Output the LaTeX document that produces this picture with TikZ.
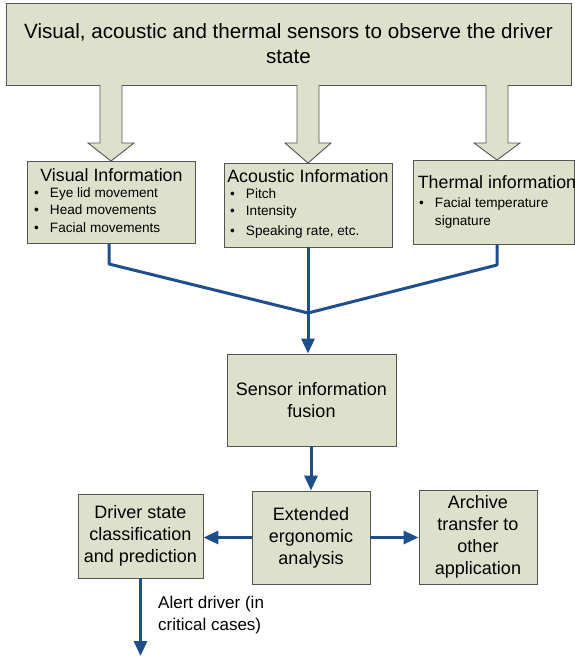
\documentclass[tikz,border=0pt]{standalone}
\usepackage{fontspec}
\setmainfont{Liberation Sans}
\usetikzlibrary{arrows.meta}
\definecolor{boxfill}{HTML}{DDE0CA}
\definecolor{boxline}{HTML}{555555}
\definecolor{flow}{HTML}{1F4E8C}
\newcommand\itemlist[1]{%
  \fontsize{13.6}{17.5}\selectfont
  \begin{tabular}{@{}l@{\hspace{11pt}}l@{}}#1\end{tabular}}
\begin{document}
\begin{tikzpicture}[x=1pt,y=-1pt,
  panel/.style={draw=boxline, fill=boxfill, line width=0.9pt, inner sep=0pt},
  bigtext/.style={font=\fontsize{18}{22}\selectfont, align=center},
  head/.style={font=\fontsize{17.8}{20}\selectfont, anchor=base, inner sep=0pt},
  listtext/.style={anchor=north west, inner sep=0pt, align=left},
  flowline/.style={draw=flow, line width=3pt},
  flowarrow/.style={flowline, -{Triangle[length=15pt,width=13pt]}},
  blockarrow/.style={draw=boxline, fill=boxfill, line width=0.9pt, line join=miter}]
\useasboundingbox (0,0) rectangle (575,657);

% sensor overview box
\node[panel, minimum width=565pt, minimum height=82pt,
  font=\fontsize{20.6}{25}\selectfont, align=center] (top) at (288.5,44)
  {Visual, acoustic and thermal sensors to observe the driver\\state};

% information boxes
\node[panel, minimum width=168pt, minimum height=82pt] (vis) at (111,202) {};
\node[panel, minimum width=168pt, minimum height=84pt] (aco) at (308,205) {};
\node[panel, minimum width=161pt, minimum height=84pt] (the) at (493.5,202) {};

\node[head] (vish) at (111.5,181) {Visual Information};
\node[listtext] (visl) at (34,185) {\itemlist{%
  \textbullet & Eye lid movement\\
  \textbullet & Head movements\\
  \textbullet & Facial movements}};

\node[head] (acoh) at (308,182) {Acoustic Information};
\node[listtext] (acol) at (230,186) {\itemlist{%
  \textbullet & Pitch\\
  \textbullet & Intensity\\[2pt]
  \textbullet & Speaking rate, etc.}};

\node[head] (theh) at (497,188) {Thermal information};
\node[listtext] (thel) at (419,194) {\fontsize{13.6}{18.5}\selectfont
  \begin{tabular}{@{}l@{\hspace{11pt}}l@{}}
  \textbullet & Facial temperature\\
   & signature\end{tabular}};

% block arrows from the overview box
\foreach \cx/\tip in {111/161, 308/163, 497/160} {
  \draw[blockarrow] (\cx-11,85) -- (\cx-11,143) -- (\cx-23,143) -- (\cx,\tip)
    -- (\cx+23,143) -- (\cx+11,143) -- (\cx+11,85);
}

% processing boxes
\node[panel, minimum width=169pt, minimum height=92pt, bigtext] (fus) at (311.5,400)
  {Sensor information\\fusion};
\node[panel, minimum width=118pt, minimum height=93pt, bigtext] (ext) at (311,537.5)
  {Extended\\ergonomic\\analysis};
\node[panel, minimum width=125pt, minimum height=84pt, bigtext] (drv) at (140.5,536)
  {Driver state\\classification\\and prediction};
\node[panel, minimum width=118pt, minimum height=94pt, bigtext] (arc) at (478,537)
  {Archive\\transfer to\\other\\application};

% fusion connectors
\coordinate (join) at (308,313);
\draw[flowline, line join=round] (vis.south -| 109,0) -- (109,264) -- (join);
\draw[flowline, line join=round] (the.south -| 497,0) -- (497,265) -- (join);
\draw[flowarrow] (aco.south) -- (aco.south |- fus.north);

\draw[flowarrow] (fus.south -| ext.north) -- (ext.north);
\draw[flowarrow] (ext.west) -- (drv.east |- ext.west);
\draw[flowarrow] (ext.east) -- (arc.west |- ext.east);

\coordinate (alert) at (140.5,656);
\draw[flowarrow] (drv.south) -- (alert);
\node[anchor=base west, inner sep=0pt, font=\fontsize{17}{22}\selectfont, align=left]
  (alertl) at (158,630) {Alert driver (in\\critical cases)};
\end{tikzpicture}
\end{document}
